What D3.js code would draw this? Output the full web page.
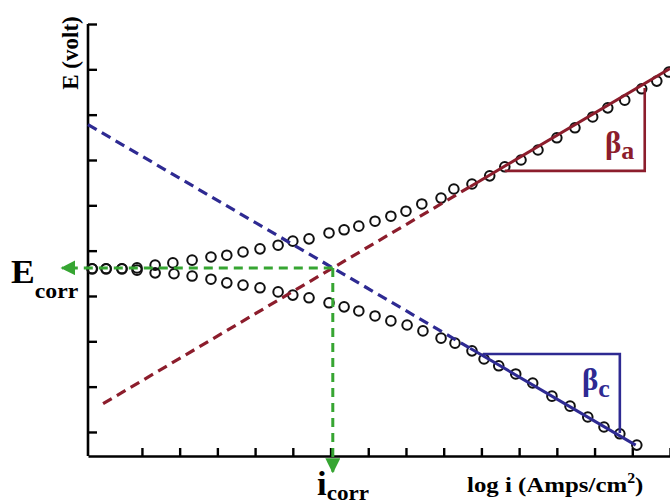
<!DOCTYPE html>
<html>
<head>
<meta charset="utf-8">
<script src="https://cdn.jsdelivr.net/npm/d3@7"></script>
<style>
  body { margin: 0; background: #fff; }
  text { font-family: "Liberation Serif", "DejaVu Serif", serif; }
</style>
</head>
<body>
<svg id="chart" width="670" height="504"></svg>
<script>
// tick positions (no numbers are printed on either axis)
const xTicks = d3.range(1, 16);
const yTicks = d3.range(1, 11);

// measured polarization curve, anodic branch (log i, E)
const anodicX = [-0.32, 0.05, 0.47, 0.87, 1.35, 1.82, 2.33, 2.83, 3.25, 3.68, 4.13, 4.61, 5.00, 5.43, 5.96, 6.36, 6.75, 7.18, 7.60, 8.00, 8.42, 8.93, 9.27, 9.75, 10.22, 10.62, 11.05, 11.50, 12.00, 12.48, 12.95, 13.35, 13.80, 14.25, 14.65, 14.97];
const anodicY = [4.60, 4.60, 4.60, 4.62, 4.68, 4.73, 4.79, 4.86, 4.90, 4.97, 5.04, 5.12, 5.21, 5.26, 5.39, 5.46, 5.54, 5.65, 5.76, 5.87, 6.03, 6.16, 6.36, 6.47, 6.65, 6.85, 7.00, 7.22, 7.49, 7.71, 7.95, 8.15, 8.32, 8.57, 8.74, 8.94];

// cathodic branch
const cathodicX = [-0.32, 0.05, 0.47, 0.87, 1.35, 1.85, 2.33, 2.83, 3.25, 3.68, 4.13, 4.61, 5.00, 5.43, 5.96, 6.36, 6.75, 7.18, 7.60, 8.03, 8.45, 8.93, 9.30, 9.75, 10.07, 10.46, 10.91, 11.36, 11.87, 12.35, 12.82, 13.25, 13.67, 14.12];
const cathodicY = [4.60, 4.60, 4.60, 4.57, 4.51, 4.49, 4.44, 4.37, 4.29, 4.24, 4.18, 4.09, 4.02, 3.96, 3.85, 3.76, 3.67, 3.56, 3.45, 3.36, 3.23, 3.07, 2.96, 2.79, 2.61, 2.46, 2.28, 2.08, 1.79, 1.57, 1.33, 1.11, 0.96, 0.71];

// corrosion point and Tafel slopes
const ecorr = 4.62, icorr = 6.06;
const slopeA = 0.492, slopeC = -0.487;
const anodicRange = [-0.03, 9.7, 15.0];    // dashed start, solid start, end
const cathodicRange = [-0.43, 9.7, 14.09];

// slope triangles
const triAX = [10.62, 14.33], triAY = [6.76, 8.59];
const triCX = [10.04, 13.67], triCY = [2.72, 0.98];

// where the green arrows stop
const ecorrArrowX = -1.12, icorrArrowY = 0.12;

const red = "#8c1d2c", blue = "#2e2a92", green = "#36a532";

const svg = d3.select("#chart");

const x = d3.scaleLinear().domain([-0.43, 15]).range([88, 670]);
const y = d3.scaleLinear().domain([0.47, 10]).range([456, 24]);

// arrow marker
svg.append("defs").append("marker")
    .attr("id", "arrow")
    .attr("viewBox", "0 0 10 10")
    .attr("refX", 9).attr("refY", 5)
    .attr("markerWidth", 5).attr("markerHeight", 5)
    .attr("markerUnits", "strokeWidth")
    .attr("orient", "auto")
    .append("path")
    .attr("d", "M0,0 L10,5 L0,10 Z")
    .attr("fill", green);

// axes
const yAxis = svg.append("g")
    .attr("transform", `translate(${x(-0.43)},0)`)
    .call(d3.axisLeft(y).tickValues(yTicks).tickSizeInner(-9).tickSizeOuter(0).tickFormat(""));
const xAxis = svg.append("g")
    .attr("transform", `translate(0,${y(0.47)})`)
    .call(d3.axisBottom(x).tickValues(xTicks).tickSizeInner(-8).tickSizeOuter(0).tickFormat(""));
[xAxis, yAxis].forEach(a => {
    a.select(".domain").attr("stroke", "#000").attr("stroke-width", 2.6);
    a.selectAll(".tick line").attr("stroke", "#000").attr("stroke-width", 2.4);
});
// top tick of the y axis sits at the very end of the axis
yAxis.select(".domain").attr("d", `M0,${y(10)}V${y(0.47)}`);

// data circles
const circles = svg.append("g");
function drawPoints(xs, ys) {
    circles.selectAll(null)
        .data(xs.map((d, i) => [d, ys[i]]))
        .enter()
        .append("circle")
        .attr("cx", d => x(d[0]))
        .attr("cy", d => y(d[1]))
        .attr("r", 4.8)
        .attr("fill", "none")
        .attr("stroke", "#111")
        .attr("stroke-width", 2);
}
drawPoints(anodicX, anodicY);
drawPoints(cathodicX, cathodicY);

// Tafel lines
function tafel(slope, range, color) {
    const f = v => ecorr + slope * (v - icorr);
    svg.append("line")
        .attr("x1", x(range[0])).attr("y1", y(f(range[0])))
        .attr("x2", x(range[1])).attr("y2", y(f(range[1])))
        .attr("stroke", color).attr("stroke-width", 3.2)
        .attr("stroke-dasharray", "10,6");
    svg.append("line")
        .attr("x1", x(range[1])).attr("y1", y(f(range[1])))
        .attr("x2", x(range[2])).attr("y2", y(f(range[2])))
        .attr("stroke", color).attr("stroke-width", 3);
}
tafel(slopeC, cathodicRange, blue);
tafel(slopeA, anodicRange, red);

// slope triangles
svg.append("path")
    .attr("d", `M${x(triAX[0])},${y(triAY[0])}H${x(triAX[1])}V${y(triAY[1])}`)
    .attr("fill", "none").attr("stroke", red).attr("stroke-width", 2.6);
svg.append("path")
    .attr("d", `M${x(triCX[0])},${y(triCY[0])}H${x(triCX[1])}V${y(triCY[1])}`)
    .attr("fill", "none").attr("stroke", blue).attr("stroke-width", 2.6);

// green arrows to Ecorr and icorr
svg.append("line")
    .attr("x1", x(icorr)).attr("y1", y(ecorr))
    .attr("x2", x(ecorrArrowX)).attr("y2", y(ecorr))
    .attr("stroke", green).attr("stroke-width", 3)
    .attr("stroke-dasharray", "9,6")
    .attr("marker-end", "url(#arrow)");
svg.append("line")
    .attr("x1", x(icorr)).attr("y1", y(ecorr))
    .attr("x2", x(icorr)).attr("y2", y(icorrArrowY))
    .attr("stroke", green).attr("stroke-width", 3)
    .attr("stroke-dasharray", "9,6")
    .attr("marker-end", "url(#arrow)");

// labels
svg.append("text")
    .attr("transform", "translate(78,53) rotate(-90)")
    .attr("text-anchor", "middle")
    .attr("font-size", 23).attr("font-weight", "bold")
    .text("E (volt)");

const eLab = svg.append("text").attr("transform", "translate(11,283) scale(1.08,1)")
    .attr("font-weight", "bold");
eLab.append("tspan").attr("font-size", 33).text("E");
eLab.append("tspan").attr("font-size", 22).attr("dy", 15).text("corr");

const iLab = svg.append("text").attr("transform", "translate(317,495) scale(1.05,1)")
    .attr("font-weight", "bold");
iLab.append("tspan").attr("font-size", 33).text("i");
iLab.append("tspan").attr("font-size", 22).attr("dy", 5).text("corr");

// the original lettering is a little wider than the font here
const xLab = svg.append("text").attr("transform", "translate(467,492) scale(1.13,1)")
    .attr("font-size", 22).attr("font-weight", "bold");
xLab.append("tspan").text("log i (Amps/cm");
xLab.append("tspan").attr("font-size", 14).attr("dy", -9).text("2");
xLab.append("tspan").attr("dy", 9).text(")");

const bA = svg.append("text").attr("x", 605).attr("y", 153)
    .attr("fill", red).attr("font-weight", "bold");
bA.append("tspan").attr("font-size", 31).text("β");
bA.append("tspan").attr("font-size", 26).attr("dy", 6).text("a");

const bC = svg.append("text").attr("x", 582).attr("y", 390)
    .attr("fill", blue).attr("font-weight", "bold");
bC.append("tspan").attr("font-size", 31).text("β");
bC.append("tspan").attr("font-size", 26).attr("dy", 7).text("c");
</script>
</body>
</html>
